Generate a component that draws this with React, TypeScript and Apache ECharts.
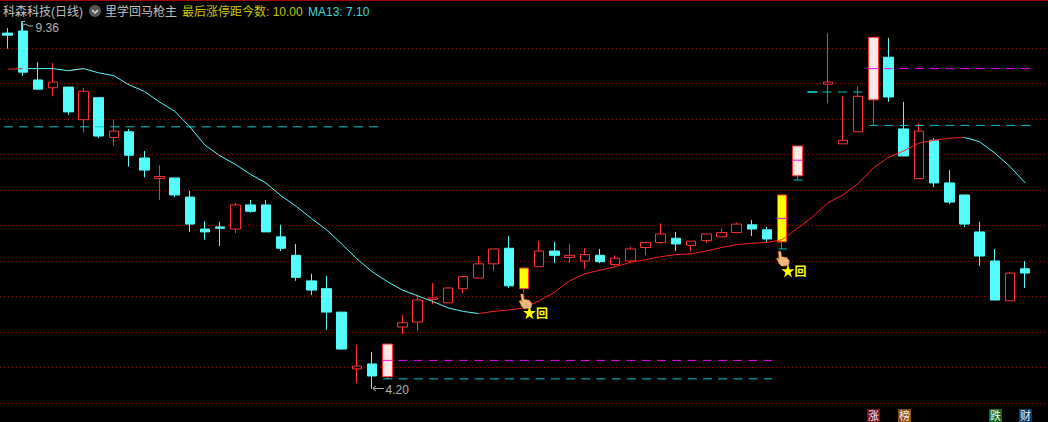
import React, { useEffect, useRef } from "react";
import * as echarts from "echarts";

const opens = [9.21,9.24,8.55,8.44,8.45,7.99,8.30,7.74,7.82,7.45,7.16,7.17,6.90,6.45,6.48,6.45,6.79,6.79,6.34,6.08,5.72,5.61,5.28,4.48,4.55,4.37,5.07,5.14,5.46,5.41,5.61,5.76,5.96,6.18,5.61,5.92,6.14,6.05,6.00,6.08,5.95,6.00,6.19,6.26,6.32,6.22,6.29,6.34,6.40,6.51,6.44,6.27,7.20,8.38,8.49,7.65,7.82,8.27,8.87,7.86,7.16,7.70,7.10,6.93,6.41,6.00,5.44,5.89];
const closes = [9.18,8.66,8.42,8.52,8.10,8.39,7.76,7.83,7.49,7.28,7.19,6.93,6.52,6.41,6.46,6.79,6.70,6.41,6.18,5.77,5.59,5.28,4.76,4.52,4.38,4.83,5.13,5.45,5.48,5.62,5.78,5.96,6.17,5.65,5.90,6.14,6.08,6.08,6.09,5.99,6.04,6.17,6.26,6.38,6.24,6.28,6.38,6.40,6.52,6.45,6.31,6.93,7.62,8.38,8.52,7.70,8.32,9.15,8.31,7.48,7.83,7.10,6.83,6.52,6.07,5.45,5.83,5.83];
const lows = [8.99,8.61,8.42,8.32,8.06,7.81,7.73,7.62,7.33,7.18,6.86,6.90,6.41,6.30,6.21,6.39,6.68,6.41,6.14,5.72,5.52,5.03,4.76,4.28,4.20,4.34,4.97,5.01,5.39,5.41,5.55,5.76,5.86,5.62,5.55,5.92,5.97,5.97,5.89,5.97,5.93,5.97,6.08,6.24,6.14,6.14,6.25,6.34,6.40,6.35,6.27,6.17,7.14,8.38,8.22,7.65,7.82,7.91,8.24,7.48,7.16,7.04,6.80,6.48,5.93,5.45,5.44,5.62];
const highs = [9.28,9.36,8.80,8.79,8.45,8.44,8.31,7.99,7.86,7.55,7.35,7.17,6.99,6.56,6.55,6.82,6.86,6.86,6.51,6.24,5.82,5.79,5.28,4.82,4.72,4.83,5.24,5.52,5.69,5.62,5.79,6.07,6.17,6.35,5.91,6.28,6.27,6.24,6.18,6.17,6.08,6.20,6.27,6.53,6.41,6.28,6.38,6.46,6.54,6.58,6.48,6.93,7.62,8.38,9.21,8.32,8.46,9.15,9.14,8.24,7.94,7.73,7.28,6.93,6.55,6.17,5.85,6.00];
const ma13 = [8.70,8.71,8.71,8.71,8.68,8.71,8.65,8.61,8.48,8.39,8.24,8.11,7.89,7.63,7.48,7.36,7.22,7.10,6.92,6.77,6.60,6.44,6.24,6.03,5.85,5.71,5.59,5.51,5.43,5.34,5.29,5.26,5.29,5.31,5.34,5.44,5.56,5.72,5.82,5.87,5.92,5.98,6.02,6.06,6.09,6.10,6.14,6.19,6.23,6.25,6.26,6.30,6.46,6.62,6.82,6.93,7.09,7.31,7.46,7.55,7.66,7.70,7.73,7.74,7.68,7.52,7.33,7.10];
const dates = opens.map((_, i) => String(i + 1));

const yellowBars = [34, 51];
const paleBars = [25, 52, 57];
const flatBars = [53];

const gridLevels = [9, 8.5, 8, 7.5, 7, 6.5, 6, 5.5, 5, 4.5, 4];
const cyanDashes = [[-0.25, 24.39, 7.89], [24.74, 50.34, 4.34], [52.66, 56.34, 8.38], [56.73, 67.36, 7.91]];
const magentaDashes = [[25.72, 50.34, 4.60], [57.72, 67.36, 8.71]];
const magentaTicks = [[24.7, 25.3, 4.60], [50.7, 51.3, 6.60], [51.7, 52.3, 7.42], [56.7, 57.3, 8.71]];
const cyanTicks = [[50.75, 51.3, 6.17], [51.75, 52.35, 7.14]];
const stars = [[34.36, 5.27], [51.38, 5.86]];
const boxes = [[35.18, 5.27], [52.2, 5.86]];
const hands = [[34.1, 5.43], [51.05, 6.03]];

const RED = "#ff3232";
const CYAN = "#54fcfc";
const MAGENTA = "#ff00ff";
const CYAN_DASH = "#00c8c8";
const FONT = "'Liberation Sans','Noto Sans CJK SC',sans-serif";
const STAR = "path://M50 0 L62 35 L100 35 L69 58 L81 95 L50 72 L19 95 L31 58 L0 35 L38 35 Z";
const HAND = "path://M2 0 L5 0 L6 6 L12 7 L15 11 L14 16 L6 17 L3 14 L0 8 L2 7 L3 9 Z";

const candleData = opens.map((o, i) => {
  const value = [o, closes[i], lows[i], highs[i]];
  if (yellowBars.includes(i))
    return { value, itemStyle: { color: "#ffff00", color0: "#ffff00", borderColor: RED, borderColor0: RED } };
  if (paleBars.includes(i))
    return { value, itemStyle: { color: "#fbe9e6", color0: "#fbe9e6", borderColor: RED, borderColor0: RED } };
  if (flatBars.includes(i))
    return { value, itemStyle: { color: "rgba(0,0,0,0)", color0: "rgba(0,0,0,0)", borderColor: CYAN_DASH, borderColor0: CYAN_DASH } };
  return value;
});

const rising = (i: number) => i >= 0 && i < ma13.length - 1 && ma13[i + 1] > ma13[i];
const maRise = ma13.map((v, i) => (rising(i) || rising(i - 1) ? v : null));
const maFall = ma13.map((v, i) => {
  const nextFall = i < ma13.length - 1 && !rising(i);
  const prevFall = i > 0 && !rising(i - 1);
  return nextFall || prevFall ? v : null;
});

function segmentSeries(list: number[][], color: string, dash: any, z: number) {
  return list.map(([a, b, p]) => ({
    type: "line",
    xAxisIndex: 1,
    yAxisIndex: 0,
    data: [[a, p], [b, p]],
    symbol: "none",
    silent: true,
    z,
    lineStyle: { color, width: 1, type: dash },
  }));
}

const bottomTags = [
  { t: "涨", x: 867, c: "#7a0c14" },
  { t: "榜", x: 898, c: "#8a4a08" },
  { t: "跌", x: 989, c: "#0a6a1a" },
  { t: "财", x: 1019, c: "#0c3a6a" },
];

export default function App() {
  const ref = useRef<HTMLDivElement>(null);
  useEffect(() => {
    document.body.style.margin = "0";
    document.body.style.background = "#000";
    document.body.style.overflow = "hidden";
    const chart = echarts.init(ref.current!, null, { renderer: "svg" });
    const label = (text: string, x: number, fill: string) => ({
      type: "text", x, y: 12, silent: true, z: 20,
      style: { text, fill, font: `12px ${FONT}`, textVerticalAlign: "middle" },
    });
    chart.setOption({
      animation: false,
      backgroundColor: "#000",
      grid: { left: -1.11, top: 0, width: 1050.2, height: 422 },
      xAxis: [
        { type: "category", data: [...dates, ""], show: false, boundaryGap: true },
        { type: "value", min: -0.5, max: 68.5, show: false },
      ],
      yAxis: { type: "value", min: 3.7324, max: 9.6761, show: false, scale: true, splitLine: { show: false } },
      series: [
        {
          type: "line", data: [], z: 1, silent: true,
          markLine: {
            silent: true, symbol: "none", label: { show: false }, animation: false, z: 1,
            lineStyle: { color: "#a00000", width: 1, type: [1, 3] },
            data: gridLevels.map((yAxis) => ({ yAxis })),
          },
        },
        ...segmentSeries(cyanDashes, CYAN_DASH, [9, 6.22], 5),
        {
          type: "candlestick", data: candleData, barWidth: 10, z: 3, silent: true,
          itemStyle: { color: "#000", color0: CYAN, borderColor: RED, borderColor0: CYAN, borderWidth: 1 },
        },
        ...segmentSeries(magentaDashes, MAGENTA, [9, 6.22], 5),
        ...segmentSeries(magentaTicks, MAGENTA, "solid", 6),
        ...segmentSeries(cyanTicks, CYAN_DASH, "solid", 6),
        { type: "line", data: maRise, symbol: "none", z: 7, silent: true, connectNulls: false, lineStyle: { color: "#ff2020", width: 1 } },
        { type: "line", data: maFall, symbol: "none", z: 7, silent: true, connectNulls: false, lineStyle: { color: CYAN, width: 1 } },
        {
          type: "scatter", xAxisIndex: 1, data: hands, symbol: HAND, symbolSize: [13, 15], z: 8, silent: true,
          itemStyle: { color: "#f6b877", borderColor: "#b86a20", borderWidth: 0.5, opacity: 1 },
        },
        { type: "scatter", xAxisIndex: 1, data: stars, symbol: STAR, symbolSize: 13, z: 8, silent: true, itemStyle: { color: "#ffff00", opacity: 1 } },
        {
          type: "scatter", xAxisIndex: 1, data: boxes, symbol: "rect", symbolSize: 1, z: 8, silent: true,
          itemStyle: { color: "rgba(0,0,0,0)", opacity: 1 },
          label: { show: true, position: "inside", formatter: "回", color: "#ffff00", fontSize: 12, fontWeight: "bold", fontFamily: "'Noto Sans CJK SC'" },
        },
      ],
      graphic: [
        { type: "rect", shape: { x: 0, y: 0, width: 1048, height: 1 }, style: { fill: "#a00000" }, silent: true },
        label("科森科技(日线)", 3, "#c0c0c0"),
        { type: "circle", shape: { cx: 95, cy: 11, r: 6 }, style: { fill: "#555" }, silent: true, z: 20 },
        { type: "polyline", shape: { points: [[92, 10], [95, 13], [98, 10]] }, style: { stroke: "#ddd", fill: "none", lineWidth: 1.5 }, silent: true, z: 21 },
        label("里学回马枪主", 105, "#c0c0c0"),
        label("最后涨停距今数: 10.00", 182, "#c8c800"),
        label("MA13: 7.10", 308, "#3cdcdc"),
        { type: "text", x: 35.5, y: 27.5, silent: true, z: 20, style: { text: "9.36", fill: "#b0b0b0", font: `12px ${FONT}`, textVerticalAlign: "middle" } },
        { type: "polyline", shape: { points: [[21.5, 31], [21.5, 21.5], [25, 21.5]] }, style: { stroke: "#b0b0b0", fill: "none", lineWidth: 1 }, silent: true, z: 20 },
        { type: "polyline", shape: { points: [[22, 26], [25, 24], [29, 26], [33, 26]] }, style: { stroke: "#b0b0b0", fill: "none", lineWidth: 1 }, silent: true, z: 20 },
        { type: "text", x: 385.5, y: 389.5, silent: true, z: 20, style: { text: "4.20", fill: "#b0b0b0", font: `12px ${FONT}`, textVerticalAlign: "middle" } },
        { type: "polyline", shape: { points: [[384, 388.5], [373, 388.5]] }, style: { stroke: "#b0b0b0", fill: "none", lineWidth: 1 }, silent: true, z: 20 },
        { type: "polyline", shape: { points: [[376, 386], [373, 388.5], [376, 391]] }, style: { stroke: "#b0b0b0", fill: "none", lineWidth: 1 }, silent: true, z: 20 },
        ...bottomTags.flatMap((b) => [
          { type: "rect", shape: { x: b.x, y: 409, width: 13, height: 13 }, style: { fill: b.c }, silent: true, z: 20 },
          { type: "text", x: b.x + 1, y: 415, silent: true, z: 21, style: { text: b.t, fill: "#f0f0f0", font: `11px 'Noto Sans CJK SC'`, textVerticalAlign: "middle" } },
        ]),
      ],
    });
    return () => chart.dispose();
  }, []);
  return <div ref={ref} style={{ width: 1048, height: 422 }} />;
}
